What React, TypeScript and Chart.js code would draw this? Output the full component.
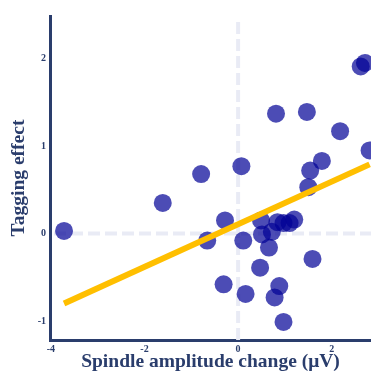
import React, { useEffect, useRef } from 'react';
import { Chart, registerables } from 'chart.js';

Chart.register(...registerables);

// Per-subject spindle amplitude change (µV) vs. tagging effect
const spindleChange = [
  -3.72, -1.61, -0.79, -0.66, -0.28, -0.31, 0.07, 0.11, 0.16, 0.49, 0.51,
  0.66, 0.72, 0.84, 0.97, 1.1, 1.2, 0.47, 0.88, 0.78, 0.97, 1.59, 1.5,
  1.54, 1.79, 0.81, 1.47, 2.18, 2.62, 2.71, 2.81,
];
const taggingEffect = [
  0.03, 0.35, 0.68, -0.08, 0.15, -0.58, 0.77, -0.08, -0.69, 0.15, -0.01,
  -0.16, 0.02, 0.13, 0.12, 0.12, 0.16, -0.39, -0.6, -0.73, -1.01, -0.29,
  0.53, 0.72, 0.83, 1.37, 1.39, 1.17, 1.91, 1.95, 0.95,
];

// Least-squares fit endpoints
const fitX = [-3.72, 2.81];
const fitY = [-0.8, 0.79];

const xTicks = [-4, -2, 0, 2];
const yTicks = [-1, 0, 1, 2];

const NAVY = '#2a3d6c';
const SERIF = '"Liberation Serif", "DejaVu Serif", serif';

const zeroLines = {
  id: 'zeroLines',
  beforeDatasetsDraw(chart: any) {
    const { ctx, chartArea, scales } = chart;
    const x0 = scales.x.getPixelForValue(0);
    const y0 = scales.y.getPixelForValue(0);
    ctx.save();
    ctx.strokeStyle = '#e9ebf5';
    ctx.lineWidth = 4;
    ctx.setLineDash([12, 5]);
    ctx.beginPath();
    ctx.moveTo(x0, chartArea.top + 6);
    ctx.lineTo(x0, chartArea.bottom);
    ctx.moveTo(chartArea.left + 4, y0);
    ctx.lineTo(chartArea.right, y0);
    ctx.stroke();
    ctx.restore();
  },
};

export default function App() {
  const canvasRef = useRef<HTMLCanvasElement | null>(null);

  useEffect(() => {
    if (!canvasRef.current) return;
    const chart = new Chart(canvasRef.current, {
      type: 'scatter',
      data: {
        datasets: [
          {
            type: 'line',
            data: fitX.map((x, i) => ({ x, y: fitY[i] })),
            borderColor: '#ffbf00',
            borderWidth: 6,
            pointRadius: 0,
            borderCapStyle: 'butt',
            order: 0,
          } as any,
          {
            data: spindleChange.map((x, i) => ({ x, y: taggingEffect[i] })),
            backgroundColor: 'rgba(0, 0, 150, 0.7)',
            borderWidth: 0,
            pointRadius: 9,
            order: 1,
          },
        ],
      },
      options: {
        animation: false,
        responsive: false,
        maintainAspectRatio: false,
        layout: { autoPadding: false, padding: { top: 16, left: 0, right: 0, bottom: 0 } },
        plugins: { legend: { display: false }, tooltip: { enabled: false } },
        scales: {
          x: {
            type: 'linear',
            min: -4.02,
            max: 2.84,
            grid: { display: false, drawTicks: false },
            border: { display: true, color: NAVY, width: 3 },
            afterBuildTicks: (s: any) => {
              s.ticks = xTicks.map((v) => ({ value: v }));
            },
            afterFit: (s: any) => {
              s.height = 32;
            },
            ticks: {
              color: NAVY,
              padding: 3,
              maxRotation: 0,
              font: { family: SERIF, size: 10, weight: 'bold' },
            },
            title: {
              display: true,
              text: 'Spindle amplitude change (μV)',
              color: NAVY,
              padding: { top: 0, bottom: 0 },
              font: { family: SERIF, size: 19.5, weight: 'bold', lineHeight: 1 },
            },
          },
          y: {
            type: 'linear',
            min: -1.217,
            max: 2.486,
            grid: { display: false, drawTicks: false },
            border: { display: true, color: NAVY, width: 3 },
            afterBuildTicks: (s: any) => {
              s.ticks = yTicks.map((v) => ({ value: v }));
            },
            afterFit: (s: any) => {
              s.width = 50;
            },
            ticks: {
              color: NAVY,
              padding: 4,
              font: { family: SERIF, size: 10, weight: 'bold' },
            },
            title: {
              display: true,
              text: 'Tagging effect',
              color: NAVY,
              padding: { top: 7, bottom: 0 },
              font: { family: SERIF, size: 19.5, weight: 'bold', lineHeight: 1.2 },
            },
          },
        },
      },
      plugins: [zeroLines],
    });
    return () => chart.destroy();
  }, []);

  return (
    <div style={{ position: 'fixed', left: 0, top: 0, width: 371, height: 372, background: '#fff' }}>
      <canvas ref={canvasRef} width={371} height={372} style={{ display: 'block' }} />
    </div>
  );
}
